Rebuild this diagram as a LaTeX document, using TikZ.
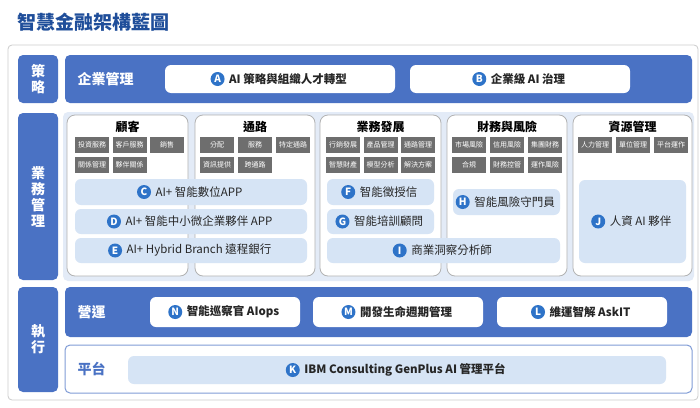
\documentclass[tikz,border=0pt]{standalone}
\usepackage{fontspec}
\setmainfont{Noto Sans CJK TC}
\begin{document}
\begin{tikzpicture}[x=1pt,y=-1pt,
  band/.style={fill=bandblue,draw=none,rounded corners=5pt},
  side/.style={fill=bandblue,draw=none,rounded corners=5pt,text=white,font=\bfseries\fontsize{14}{16}\selectfont,align=center},
  col/.style={fill=white,draw=gray!60,line width=0.8pt,rounded corners=8pt},
  tag/.style={fill=taggray,text=white,font=\fontsize{7}{8}\selectfont,inner sep=0pt},
  pill/.style={fill=pillblue,draw=none,rounded corners=6pt},
  wpill/.style={fill=white,draw=none,rounded corners=6pt},
  badge/.style={circle,fill=badgeblue,text=white,font=\bfseries\fontsize{10}{10}\selectfont,inner sep=0pt,minimum size=14pt},
  ptext/.style={font=\fontsize{11.5}{13}\selectfont,text=black!85}]
\definecolor{bandblue}{HTML}{4A72C4}
\definecolor{pillblue}{HTML}{D6E4F5}
\definecolor{taggray}{HTML}{6E6E6E}
\definecolor{badgeblue}{HTML}{2E73C8}
\definecolor{titleblue}{HTML}{1F4E9A}
\definecolor{framebg}{HTML}{E3EBF7}
\useasboundingbox (0,0) rectangle (700,407);
\fill[white] (0,0) rectangle (700,407);
\node[anchor=west,text=titleblue,font=\bfseries\fontsize{19}{20}\selectfont] (title) at (14,22) {智慧金融架構藍圖};
\draw[gray!40,line width=0.8pt,rounded corners=4pt] (8,45) rectangle (698,400);
% left labels
\node[side,minimum width=40pt,minimum height=48pt] (s1) at (38,79) {策\\略};
\node[side,minimum width=40pt,minimum height=167pt] (s2) at (38,196.5) {業\\務\\管\\理};
\node[side,minimum width=40pt,minimum height=105pt] (s3) at (38,339.5) {執\\行};
% row 1
\fill[band] (65,55) rectangle (692,103);
\node[text=white,font=\bfseries\fontsize{14}{15}\selectfont,anchor=west] (qy) at (74,79) {企業管理};
\newcommand\mypill[7]{%
  \fill[#1] (#2,#3) rectangle (#4,#5);
  \node[ptext] (t#6) at ({(#2+#4)/2+8},{(#3+#5)/2}) {#7};
  \node[badge] (b#6) at ([xshift=-8pt]t#6.west) {#6};}
\mypill{wpill}{165}{65}{395}{93}{A}{\bfseries AI 策略與組織人才轉型}
\mypill{wpill}{410}{65}{630}{93}{B}{\bfseries 企業級 AI 治理}
% row 2
\fill[framebg,rounded corners=5pt] (63,112) rectangle (694,281);
\foreach \a/\b/\t [count=\i] in {67/188/顧客,195/315/通路,320/441/業務發展,447/567/財務與風險,573/692/資源管理}{
  \draw[col] (\a,115) rectangle (\b,276);
  \node[font=\bfseries\fontsize{12}{13}\selectfont] (h\i) at ({(\a+\b)/2},127) {\t};
}
\newcommand\mytag[4]{\node[tag,minimum width=34pt,minimum height=16pt] (g#4) at (#1,#2) {#3};}
\mytag{92}{145}{投資服務}{a1}\mytag{129.5}{145}{客戶服務}{a2}\mytag{167}{145}{銷售}{a3}
\mytag{92}{165}{關係管理}{a4}\mytag{129.5}{165}{夥伴關係}{a5}
\mytag{217}{145}{分配}{b1}\mytag{255}{145}{服務}{b2}\mytag{293}{145}{特定通路}{b3}
\mytag{217}{165}{資訊提供}{b4}\mytag{255}{165}{跨通路}{b5}
\mytag{343}{145}{行銷發展}{c1}\mytag{380.5}{145}{產品管理}{c2}\mytag{418}{145}{通路管理}{c3}
\mytag{343}{165}{智慧財產}{c4}\mytag{380.5}{165}{模型分析}{c5}\mytag{418}{165}{解決方案}{c6}
\mytag{469}{145}{市場風險}{d1}\mytag{507}{145}{信用風險}{d2}\mytag{545}{145}{集團財務}{d3}
\mytag{469}{165}{合規}{d4}\mytag{507}{165}{財務控管}{d5}\mytag{545}{165}{運作風險}{d6}
\mytag{595}{145}{人力管理}{e1}\mytag{633}{145}{單位管理}{e2}\mytag{671}{145}{平台運作}{e3}
\mypill{pill}{75}{179}{307}{205}{C}{AI+ 智能數位APP}
\mypill{pill}{75}{209}{307}{234}{D}{AI+ 智能中小微企業夥伴 APP}
\mypill{pill}{75}{238}{307}{263}{E}{AI+ Hybrid Branch 遠程銀行}
\mypill{pill}{327}{179}{434}{205}{F}{智能徵授信}
\mypill{pill}{327}{209}{434}{234}{G}{智能培訓顧問}
\mypill{pill}{327}{238}{560}{263}{I}{商業洞察分析師}
\mypill{pill}{453}{189}{560}{215}{H}{智能風險守門員}
\mypill{pill}{579}{180}{686}{263}{J}{人資 AI 夥伴}
% row 3
\fill[band] (65,287) rectangle (692,337);
\node[text=white,font=\bfseries\fontsize{14}{15}\selectfont,anchor=west] (yy) at (74,312) {營運};
\mypill{wpill}{150}{297}{300}{327}{N}{\bfseries 智能巡察官 AIops}
\mypill{wpill}{313}{297}{483}{327}{M}{\bfseries 開發生命週期管理}
\mypill{wpill}{497}{297}{667}{327}{L}{\bfseries 維運智解 AskIT}
\draw[bandblue!70,line width=1pt,fill=white,rounded corners=5pt] (65,345) rectangle (692,393);
\node[text=bandblue,font=\bfseries\fontsize{14}{15}\selectfont,anchor=west] (pt) at (74,369) {平台};
\mypill{pill}{128}{356}{666}{384}{K}{\bfseries IBM Consulting GenPlus AI 管理平台}
\end{tikzpicture}
\end{document}
